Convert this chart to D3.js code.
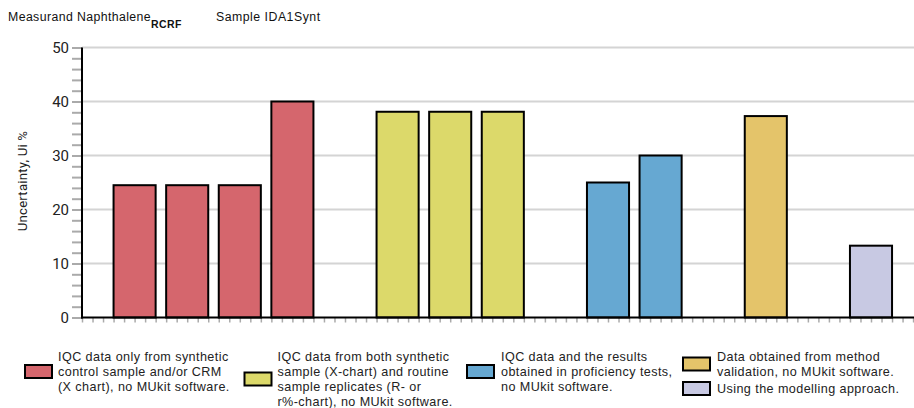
<!DOCTYPE html>
<html>
<head>
<meta charset="utf-8">
<script src="https://cdn.jsdelivr.net/npm/d3@7"></script>
<style>
  html, body { margin: 0; padding: 0; background: #fff; }
  svg { display: block; font-family: "Liberation Sans", Arial, sans-serif; }
</style>
</head>
<body>
<svg id="chart" width="914" height="408"></svg>
<script>
// ---- data ----
const slotPositions = [1, 2, 3, 4, 6, 7, 8, 10, 11, 13, 15];
const barValues     = [24.5, 24.5, 24.5, 40, 38.1, 38.1, 38.1, 25, 30, 37.3, 13.3];
const barGroups     = [0, 0, 0, 0, 1, 1, 1, 2, 2, 3, 4];
const groupColors   = ["#d5666d", "#dcd96a", "#66a8d2", "#e4c46a", "#c8c9e3"];
const legendLines = [
  ["IQC data only from synthetic", "control sample and/or CRM", "(X chart), no MUkit software."],
  ["IQC data from both synthetic", "sample (X-chart) and routine", "sample replicates (R- or", "r%-chart), no MUkit software."],
  ["IQC data and the results", "obtained in proficiency tests,", "no MUkit software."],
  ["Data obtained from method", "validation, no MUkit software."],
  ["Using the modelling approach."]
];
const yTicks = [0, 10, 20, 30, 40, 50];
const yLabel = "Uncertainty, Ui %";
const titleMain = "Measurand Naphthalene";
const titleSub = "RCRF";
const titleSample = "Sample IDA1Synt";

// ---- layout ----
const svg = d3.select("#chart");
const x0 = 82, x1 = 914, yTop = 47.5, yBot = 317.5;
const slotPx = 52.6;
const x = d3.scaleLinear().domain([0, (x1 - x0) / slotPx]).range([x0, x1]);
const y = d3.scaleLinear().domain([0, 50]).range([yBot, yTop]);

// title
const t = svg.append("text").attr("x", 8).attr("y", 21).attr("font-size", 12.3)
  .attr("letter-spacing", 0.4).attr("fill", "#111");
t.append("tspan").text(titleMain);
t.append("tspan").attr("dy", 7).attr("font-size", 10.5).attr("font-weight", "bold").text(titleSub);
svg.append("text").attr("x", 216).attr("y", 21).attr("font-size", 12.3)
  .attr("letter-spacing", 0.5).attr("fill", "#111").text(titleSample);

// gridlines
svg.append("g").selectAll("line").data(yTicks.filter(d => d > 0)).join("line")
  .attr("x1", x0).attr("x2", x1)
  .attr("y1", d => y(d)).attr("y2", d => y(d))
  .attr("stroke", "#d4d4d4").attr("stroke-width", 2);

// y minor/major ticks
const yAxis = d3.axisLeft(y).tickValues(d3.range(0, 51, 2)).tickSize(10)
  .tickFormat(d => yTicks.includes(d) ? d : "");
const gy = svg.append("g").attr("transform", `translate(${x0},0)`).call(yAxis);
gy.select(".domain").remove();
gy.selectAll(".tick line").attr("stroke", "#aaa").attr("stroke-width", 2);
gy.selectAll(".tick text").attr("font-size", 15).attr("fill", "#222")
  .attr("font-family", "Roboto, 'Liberation Sans', Arial, sans-serif").attr("x", -13);

// x minor ticks
const xTickVals = d3.range(0, Math.floor(((x1 - x0) / slotPx) * 5) + 1).map(i => i / 5);
const xAxis = d3.axisBottom(x).tickValues(xTickVals).tickSize(5).tickFormat("");
const gx = svg.append("g").attr("transform", `translate(0,${yBot})`).call(xAxis);
gx.select(".domain").remove();
gx.selectAll(".tick line").attr("stroke", "#aaa").attr("stroke-width", 1.5);

// y label
svg.append("text")
  .attr("transform", `translate(26.5,181) rotate(-90)`)
  .attr("text-anchor", "middle").attr("font-size", 13.2).attr("fill", "#222")
  .attr("letter-spacing", 0.2)
  .attr("font-family", "Roboto, 'Liberation Sans', Arial, sans-serif")
  .text(yLabel);

// bars
const barW = 0.8;
svg.append("g").selectAll("rect").data(barValues).join("rect")
  .attr("x", (d, i) => x(slotPositions[i] - barW / 2))
  .attr("width", (d, i) => x(slotPositions[i] + barW / 2) - x(slotPositions[i] - barW / 2))
  .attr("y", d => y(d))
  .attr("height", d => y(0) - y(d))
  .attr("fill", (d, i) => groupColors[barGroups[i]])
  .attr("stroke", "#000").attr("stroke-width", 2);

// axis lines
svg.append("line").attr("x1", x0).attr("x2", x0).attr("y1", yTop).attr("y2", yBot + 1)
  .attr("stroke", "#000").attr("stroke-width", 2);
svg.append("line").attr("x1", x0 - 1).attr("x2", x1).attr("y1", yBot).attr("y2", yBot)
  .attr("stroke", "#000").attr("stroke-width", 2);

// legend
const legendPos = [
  { sx: 25, sy: 371.5, tx: 58, ty: 356.5 },
  { sx: 244.5, sy: 379, tx: 277.5, ty: 356.5 },
  { sx: 467, sy: 371.5, tx: 501, ty: 356.5 },
  { sx: 683, sy: 364, tx: 717, ty: 356.5 },
  { sx: 683, sy: 388.5, tx: 717, ty: 388.5 }
];
const lg = svg.append("g");
legendLines.forEach((lines, gi) => {
  const p = legendPos[gi];
  lg.append("rect").attr("x", p.sx).attr("y", p.sy - 6.5).attr("width", 27).attr("height", 13)
    .attr("fill", groupColors[gi]).attr("stroke", "#000").attr("stroke-width", 2);
  const tx = lg.append("text").attr("font-size", 12.6).attr("letter-spacing", 0.42).attr("fill", "#222");
  lines.forEach((ln, li) => {
    tx.append("tspan").attr("x", p.tx).attr("y", p.ty + li * 15).attr("dy", "0.35em").text(ln);
  });
});
</script>
</body>
</html>
